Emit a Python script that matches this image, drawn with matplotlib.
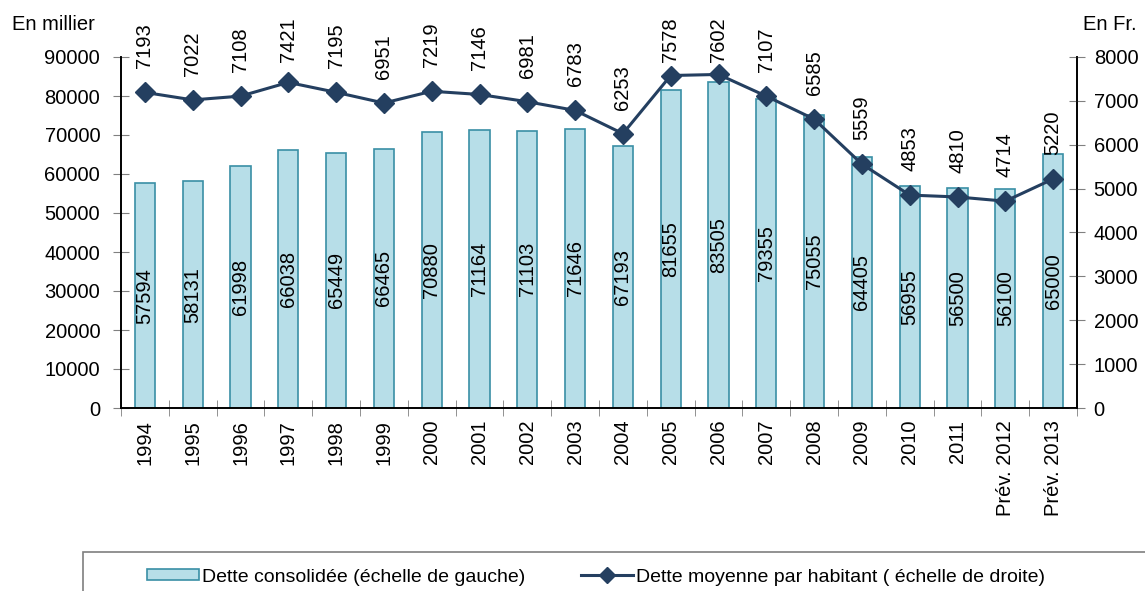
import numpy as np
import matplotlib
matplotlib.use('Agg')
from matplotlib import pyplot as plt
from matplotlib.patches import Rectangle, Patch
from matplotlib.lines import Line2D

plt.rcParams['font.family'] = ['Liberation Sans', 'DejaVu Sans']

years = ['1994', '1995', '1996', '1997', '1998', '1999', '2000', '2001', '2002',
         '2003', '2004', '2005', '2006', '2007', '2008', '2009', '2010', '2011',
         'Prév. 2012', 'Prév. 2013']
dette = [57594, 58131, 61998, 66038, 65449, 66465, 70880, 71164, 71103, 71646,
         67193, 81655, 83505, 79355, 75055, 64405, 56955, 56500, 56100, 65000]
par_hab = [7193, 7022, 7108, 7421, 7195, 6951, 7219, 7146, 6981, 6783,
           6253, 7578, 7602, 7107, 6585, 5559, 4853, 4810, 4714, 5220]

BAR_FACE = '#b7dee8'
BAR_EDGE = '#3a8fa5'
LINE_COL = '#243f60'
TICK_COL = 'gray'
FS = 14.5
W, H = 1145, 591

fig = plt.figure(figsize=(W/100, H/100), dpi=100)
ax = fig.add_axes([121/W, 1-408/H, (1077-121)/W, (408-57)/H])
ax2 = ax.twinx()

x = np.arange(len(years))
ax.bar(x, dette, width=0.42, color=BAR_FACE, edgecolor=BAR_EDGE, linewidth=1.2, zorder=2)
for xi, v in zip(x, dette):
    ax.text(xi, v/2, str(v), rotation=90, ha='center', va='center', fontsize=FS)

ax2.plot(x, par_hab, color=LINE_COL, lw=2.2, marker='D', ms=10, zorder=3)

ax.set_xlim(-0.5, len(years)-0.5)
ax.set_ylim(0, 90000)
ax.set_yticks(np.arange(0, 90001, 10000))
ax2.set_ylim(0, 8000)
ax2.set_yticks(np.arange(0, 8001, 1000))

ax.set_xticks(x)
ax.set_xticklabels(years, rotation=90, fontsize=FS)
ax.set_xticks(np.arange(-0.5, len(years), 1), minor=True)
ax.tick_params(axis='x', which='major', length=0, pad=8.5)
ax.tick_params(axis='x', which='minor', direction='inout', length=12, color=TICK_COL)
ax.tick_params(axis='y', direction='inout', length=12, color=TICK_COL, labelsize=FS, pad=9)
ax2.tick_params(axis='y', direction='inout', length=12, color=TICK_COL, labelsize=FS, pad=6)

for a in (ax, ax2):
    a.spines['top'].set_visible(False)
    for s in ('left', 'right', 'bottom'):
        a.spines[s].set_color('black')
        a.spines[s].set_linewidth(1.2)

# labels above the line points, kept below the top of the figure
for xi, v in zip(x, par_hab):
    px, py = ax2.transData.transform((xi, v))
    bottom = py + 24
    top_lim = H - 15
    if bottom + 47 > top_lim:
        bottom = top_lim - 47
    fig.text(px/W, bottom/H, str(v), rotation=90, ha='center', va='bottom', fontsize=FS)

fig.text(12/W, 1-25/H, 'En millier', fontsize=FS, va='center', ha='left')
fig.text(1137/W, 1-25/H, 'En Fr.', fontsize=FS, va='center', ha='right')

# legend box (runs off the bottom and right of the figure)
fig.patches.append(Rectangle((83/W, -0.05), 1.1, (H-552)/H+0.05,
                             transform=fig.transFigure, fill=False,
                             edgecolor='#7f7f7f', lw=1.2))
handles = [Patch(facecolor=BAR_FACE, edgecolor=BAR_EDGE, lw=1.2),
           Line2D([], [], color=LINE_COL, lw=2.2, marker='D', ms=8)]
labels = ['Dette consolidée (échelle de gauche)',
          'Dette moyenne par habitant ( échelle de droite)']
fig.legend(handles, labels, ncol=2, loc='center', bbox_to_anchor=(596/W, 1-577/H),
           frameon=False, fontsize=14, handlelength=2.65, handletextpad=0.15,
           columnspacing=2.9, handleheight=0.55)

fig.savefig('out.png', dpi=100)
